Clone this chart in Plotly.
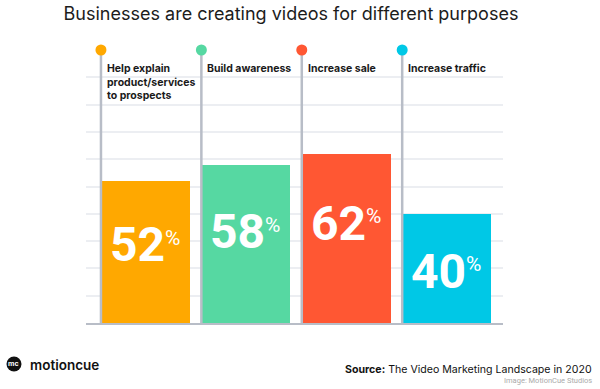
import plotly.graph_objects as go

# ---- data ----
categories = ["Help explain<br>product/services<br>to prospects", "Build awareness", "Increase sale", "Increase traffic"]
values = [52, 58, 62, 40]
value_labels = ["52", "58", "62", "40"]
colors = ["#FFA800", "#56D8A2", "#FF5733", "#00C8E6"]
grid_ticks = list(range(0, 101, 10))

title_text = "Businesses are creating videos for different purposes"
source_text = "<b>Source:</b> The Video Marketing Landscape in 2020"
credit_text = "Image: MotionCue Studios"
brand_text = "motioncue"

idx = list(range(len(values)))
STEM = "#b8bdc7"
GRID = "#eceef2"
BIG_FONT = "Roboto, sans-serif"
TEXT_FONT = "Inter, Roboto, sans-serif"

fig = go.Figure()

# bars
fig.add_trace(go.Bar(
    x=idx, y=values, width=0.876, offset=0.01,
    marker=dict(color=colors, line=dict(width=0)),
    hoverinfo="skip", showlegend=False,
))

# stems + dots
for i in idx:
    fig.add_trace(go.Scatter(
        x=[i, i], y=[0, 100], mode="lines",
        line=dict(color=STEM, width=2.5),
        hoverinfo="skip", showlegend=False,
    ))
for i, c in zip(idx, colors):
    fig.add_trace(go.Scatter(
        x=[i], y=[100], mode="markers",
        marker=dict(color=c, size=11, line=dict(width=0)),
        cliponaxis=False, hoverinfo="skip", showlegend=False,
    ))

annotations = []
# category labels
for i, cat in zip(idx, categories):
    annotations.append(dict(
        x=i, y=100, xref="x", yref="y", xanchor="left", yanchor="top",
        xshift=4, yshift=-10, align="left", showarrow=False,
        text=cat, font=dict(family=TEXT_FONT, size=10.5, color="#1a1a1a", weight=700),
    ))
# value labels
for i, v, lab in zip(idx, values, value_labels):
    ly = 0.8 * v - 13
    annotations.append(dict(
        x=i, y=ly, xref="x", yref="y", xanchor="right", yanchor="middle",
        xshift=66, showarrow=False, text=lab,
        font=dict(family=BIG_FONT, size=48, color="white", weight=700),
    ))
    annotations.append(dict(
        x=i, y=ly, xref="x", yref="y", xanchor="left", yanchor="middle",
        xshift=62, yshift=7, showarrow=False, text="%",
        font=dict(family=BIG_FONT, size=21, color="white", weight=400),
    ))

# footer
annotations.append(dict(
    x=-0.1727, y=-0.150, xref="paper", yref="paper", xanchor="center", yanchor="middle",
    showarrow=False, text="<b>mc</b>", font=dict(family=TEXT_FONT, size=7, color="white"),
))
annotations.append(dict(
    x=-0.139, y=-0.154, xref="paper", yref="paper", xanchor="left", yanchor="middle",
    showarrow=False, text=brand_text, font=dict(family=TEXT_FONT, size=13.5, color="#111111", weight=600),
))
annotations.append(dict(
    x=1.218, y=-0.172, xref="paper", yref="paper", xanchor="right", yanchor="middle",
    showarrow=False, text=source_text, font=dict(family=TEXT_FONT, size=10.6, color="#111111"),
))
annotations.append(dict(
    x=1.218, y=-0.212, xref="paper", yref="paper", xanchor="right", yanchor="middle",
    showarrow=False, text=credit_text, font=dict(family=BIG_FONT, size=7.5, color="#aaaaaa"),
))

shapes = [dict(
    type="circle", xref="paper", yref="paper", xsizemode="pixel", ysizemode="pixel",
    xanchor=-0.1727, yanchor=-0.150, x0=-7.5, x1=7.5, y0=-7.5, y1=7.5,
    fillcolor="#111111", line=dict(width=0), layer="above",
)]

fig.update_layout(
    width=600, height=389,
    margin=dict(l=86, r=97, t=50, b=66),
    paper_bgcolor="white", plot_bgcolor="white",
    title=dict(text=title_text, x=0.4916, xref="paper", xanchor="center",
               y=0.965, yref="container", yanchor="middle",
               font=dict(family=TEXT_FONT, size=18, color="#1c1c1c")),
    xaxis=dict(range=[-0.149, 4.004], showgrid=False, zeroline=False, showticklabels=False,
               showline=True, linecolor=STEM, linewidth=2, fixedrange=True),
    yaxis=dict(range=[0, 100], tickvals=grid_ticks, showgrid=True, gridcolor=GRID, gridwidth=1.5,
               zeroline=False, showticklabels=False, showline=False, fixedrange=True),
    bargap=0, annotations=annotations, shapes=shapes,
)

# remove the browser's default 8px body margin so the figure sits at the page corner
fig.write_html("out.html", config={"displayModeBar": False},
               post_script="document.body.style.margin='0';")
